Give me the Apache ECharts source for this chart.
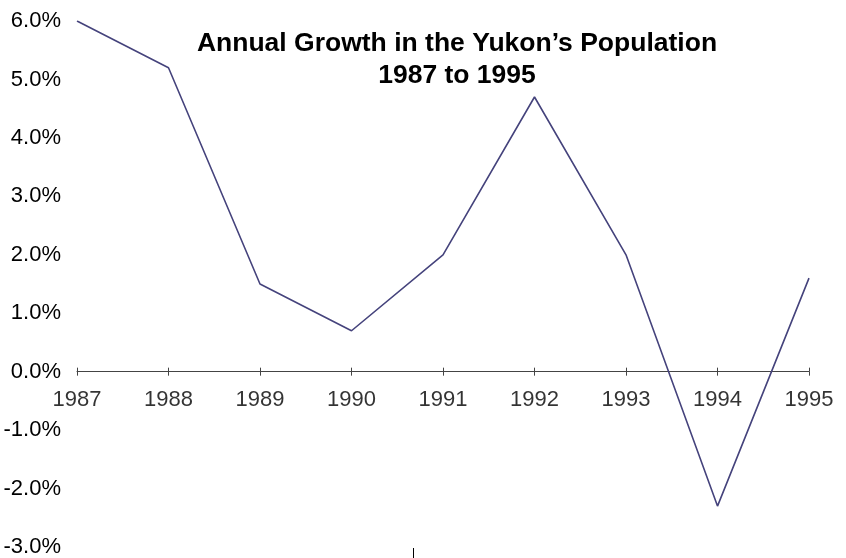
<!DOCTYPE html>
<html>
<head>
<meta charset="utf-8">
<script src="https://cdn.jsdelivr.net/npm/echarts@6/dist/echarts.min.js"></script>
<style>
  html, body { margin: 0; padding: 0; background: #fff; }
  #chart { width: 846px; height: 558px; }
</style>
</head>
<body>
<div id="chart"></div>
<script>
// years on the x axis
const years = ["1987", "1988", "1989", "1990", "1991", "1992", "1993", "1994", "1995"];
// annual growth, percent
const growth = [6.0, 5.2, 1.5, 0.7, 2.0, 4.7, 2.0, -2.3, 1.6];
// y axis range / step
const yMin = -3;
const yMax = 6;
const yStep = 1;

const font = "'Liberation Sans', Arial, sans-serif";
const chart = echarts.init(document.getElementById("chart"));

chart.setOption({
  animation: false,
  backgroundColor: "#fff",
  title: {
    text: "Annual Growth in the Yukon\u2019s Population\n1987 to 1995",
    left: 452,
    top: 23,
    textAlign: "center",
    textStyle: {
      fontFamily: font,
      fontSize: 26.5,
      fontWeight: "bold",
      color: "#000",
      lineHeight: 32,
      align: "center"
    }
  },
  grid: { left: 77, right: 37, top: 21, bottom: 11 },
  xAxis: [
    {
      type: "category",
      data: years,
      boundaryGap: false,
      position: "bottom",
      axisLine: { onZero: true, onZeroAxisIndex: 0, lineStyle: { color: "#444", width: 1 } },
      axisTick: { show: true, length: 4, lineStyle: { color: "#444" } },
      // labels stay at the grid bottom here, so they are drawn by the scatter below
      axisLabel: { show: false }
    },
    {
      // second axis only for the upper half of the ticks
      type: "category",
      data: years,
      boundaryGap: false,
      position: "top",
      axisLine: { onZero: true, onZeroAxisIndex: 0, show: false },
      axisTick: { show: true, length: 4, lineStyle: { color: "#444" } },
      axisLabel: { show: false }
    }
  ],
  yAxis: {
    type: "value",
    min: yMin,
    max: yMax,
    interval: yStep,
    axisLine: { show: false },
    axisTick: { show: false },
    splitLine: { show: false },
    axisLabel: {
      fontFamily: font,
      fontSize: 22,
      color: "#000",
      margin: 16,
      formatter: v => v.toFixed(1) + "%"
    }
  },
  series: [
    {
      type: "line",
      data: growth,
      symbol: "none",
      lineStyle: { color: "#45437c", width: 1.6 }
    },
    {
      // year labels under the zero line
      type: "scatter",
      data: years.map(y => [y, 0]),
      symbolSize: 0,
      silent: true,
      label: {
        show: true,
        position: "bottom",
        distance: 17,
        formatter: p => p.value[0],
        fontFamily: font,
        fontSize: 22,
        color: "#000"
      }
    }
  ],
  graphic: [
    // small stray mark at the bottom of the original
    {
      type: "line",
      shape: { x1: 413.5, y1: 548, x2: 413.5, y2: 558 },
      style: { stroke: "#000", lineWidth: 1 }
    }
  ]
});
</script>
</body>
</html>
